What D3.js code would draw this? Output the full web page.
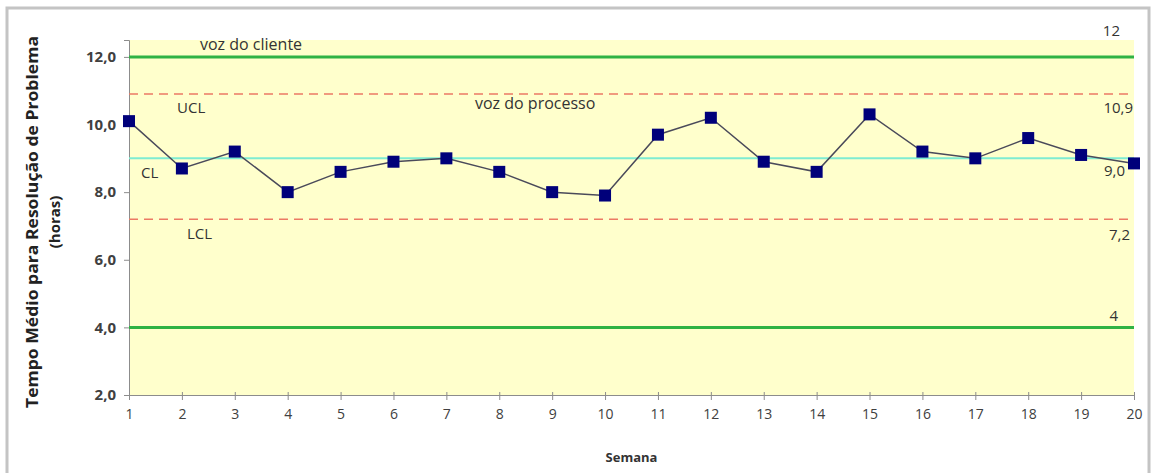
<!DOCTYPE html>
<html>
<head>
<meta charset="utf-8">
<script src="https://cdn.jsdelivr.net/npm/d3@7"></script>
<style>
  body { margin: 0; background: #fff; }
  text { font-family: "Open Sans", "Liberation Sans", sans-serif; }
</style>
</head>
<body>
<div id="chart"></div>
<script>
// weekly data
var semanas = d3.range(1, 21);
var tempos = [10.1, 8.7, 9.2, 8.0, 8.6, 8.9, 9.0, 8.6, 8.0, 7.9,
              9.7, 10.2, 8.9, 8.6, 10.3, 9.2, 9.0, 9.6, 9.1, 8.85];
var yTicks = [2, 4, 6, 8, 10, 12];

// limits
var vozCliente = [12, 4];
var ucl = 10.9, cl = 9.0, lcl = 7.2;

var width = 1153, height = 473;
var margin = { top: 40, right: 19, bottom: 78, left: 129 };
var w = width - margin.left - margin.right;
var h = height - margin.top - margin.bottom;

var svg = d3.select("#chart").append("svg")
    .attr("width", width)
    .attr("height", height);

// outer frame
svg.append("rect")
    .attr("x", 7).attr("y", 8)
    .attr("width", 1142).attr("height", 480)
    .attr("fill", "none")
    .attr("stroke", "#c4c4c4")
    .attr("stroke-width", 3);

var g = svg.append("g")
    .attr("transform", "translate(" + margin.left + "," + margin.top + ")");

var xScale = d3.scaleLinear().domain([1, 20]).range([0, w]);
var yScale = d3.scaleLinear().domain([2, 12.5]).range([h, 0]);

g.append("rect")
    .attr("width", w).attr("height", h)
    .attr("fill", "#ffffcc");

var fmt = function (d) { return d3.format(".1f")(d).replace(".", ","); };

var yAxis = g.append("g")
    .call(d3.axisLeft(yScale).tickValues(yTicks).tickFormat(fmt).tickSize(5).tickPadding(8));
yAxis.select(".domain").attr("stroke", "#8c8c8c");
yAxis.selectAll(".tick line").attr("stroke", "#8c8c8c");
yAxis.selectAll("text").attr("fill", "#404040").style("font-size", "15px").style("font-weight", "bold");

var xAxis = g.append("g")
    .attr("transform", "translate(0," + h + ")")
    .call(d3.axisBottom(xScale).tickValues(semanas).tickFormat(d3.format("d")).tickSize(5).tickPadding(9).tickSizeOuter(0));
xAxis.select(".domain").attr("stroke", "#8c8c8c");
xAxis.selectAll(".tick line").attr("stroke", "#8c8c8c").attr("y1", -3);
xAxis.selectAll("text").attr("fill", "#404040").style("font-size", "14px");

// voz do cliente
g.selectAll(".spec")
    .data(vozCliente)
    .enter().append("line")
    .attr("class", "spec")
    .attr("x1", 0).attr("x2", w)
    .attr("y1", function (d) { return yScale(d); })
    .attr("y2", function (d) { return yScale(d); })
    .attr("stroke", "#2fb344")
    .attr("stroke-width", 3);

// control limits
g.selectAll(".ctl")
    .data([ucl, lcl])
    .enter().append("line")
    .attr("class", "ctl")
    .attr("x1", 0).attr("x2", w)
    .attr("y1", function (d) { return yScale(d); })
    .attr("y2", function (d) { return yScale(d); })
    .attr("stroke", "#ec7a64")
    .attr("stroke-width", 1.5)
    .attr("stroke-dasharray", "9,6");

g.append("line")
    .attr("x1", 0).attr("x2", w)
    .attr("y1", yScale(cl)).attr("y2", yScale(cl))
    .attr("stroke", "#7eecd2")
    .attr("stroke-width", 2);

// data line
var line = d3.line()
    .x(function (d, i) { return xScale(semanas[i]); })
    .y(function (d) { return yScale(d); });

g.append("path")
    .datum(tempos)
    .attr("d", line)
    .attr("fill", "none")
    .attr("stroke", "#4a4a5a")
    .attr("stroke-width", 1.5);

g.selectAll(".pt")
    .data(tempos)
    .enter().append("rect")
    .attr("class", "pt")
    .attr("x", function (d, i) { return xScale(semanas[i]) - 6; })
    .attr("y", function (d) { return yScale(d) - 6; })
    .attr("width", 12).attr("height", 12)
    .attr("fill", "#00007a");

// labels
var lab = function (x, y, t, anchor, size) {
    return g.append("text")
        .attr("x", x).attr("y", y)
        .attr("text-anchor", anchor || "start")
        .attr("fill", "#333")
        .style("font-size", (size || 15) + "px")
        .text(t);
};
lab(71, yScale(12) - 7, "voz do cliente", "start", 16);
lab(48, yScale(ucl) + 19, "UCL");
lab(346, yScale(ucl) + 15, "voz do processo", "start", 16);
lab(12, yScale(cl) + 20, "CL");
lab(58, yScale(lcl) + 20, "LCL");
lab(w - 14, yScale(12) - 21, "12", "end");
lab(w - 1, yScale(ucl) + 19, "10,9", "end");
lab(w - 9, yScale(cl) + 18, "9,0", "end");
lab(w - 4, yScale(lcl) + 21, "7,2", "end");
lab(w - 16, yScale(4) - 6, "4", "end");

// axis titles
svg.append("text")
    .attr("transform", "translate(38,222) rotate(-90)")
    .attr("text-anchor", "middle")
    .attr("fill", "#222")
    .attr("textLength", 372)
    .attr("lengthAdjust", "spacingAndGlyphs")
    .style("font-size", "16px")
    .style("font-weight", "bold")
    .text("Tempo Médio para Resolução de Problema");

svg.append("text")
    .attr("transform", "translate(60,222) rotate(-90)")
    .attr("text-anchor", "middle")
    .attr("fill", "#222")
    .style("font-size", "15px")
    .style("font-weight", "bold")
    .text("(horas)");

svg.append("text")
    .attr("x", margin.left + xScale(10.5))
    .attr("y", 462)
    .attr("text-anchor", "middle")
    .attr("fill", "#333")
    .style("font-size", "13px")
    .style("font-weight", "bold")
    .text("Semana");
</script>
</body>
</html>
